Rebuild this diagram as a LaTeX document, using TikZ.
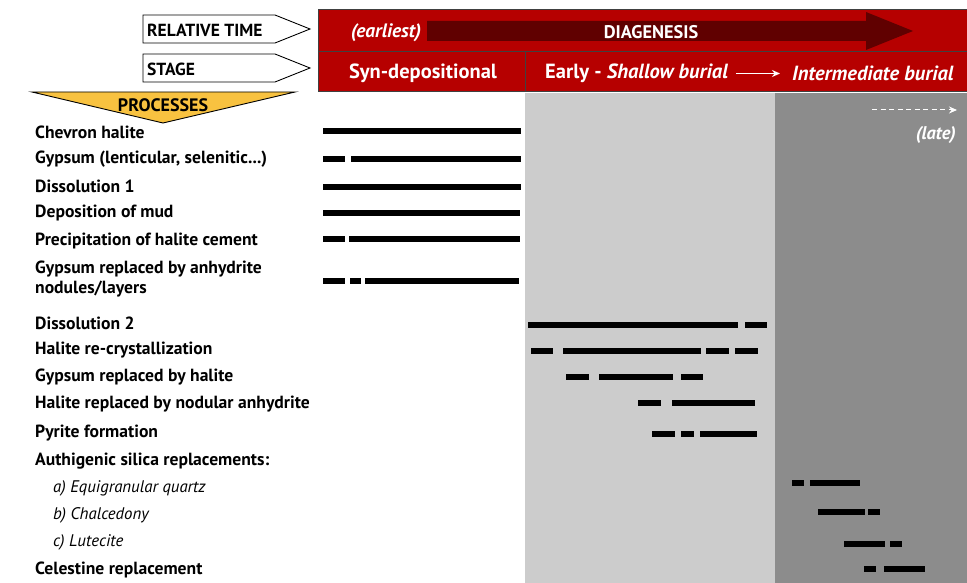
\documentclass[tikz,border=0pt]{standalone}
\usepackage{fontspec}
\setmainfont{PT Sans}
\usetikzlibrary{arrows.meta}
\definecolor{hdred}{RGB}{182,0,0}
\definecolor{arrred}{RGB}{96,0,0}
\definecolor{lgray}{RGB}{204,204,204}
\definecolor{dgray}{RGB}{140,140,140}
\definecolor{procyel}{RGB}{248,194,64}
\tikzset{
  lbl/.style={anchor=west,inner sep=0pt,yshift=-1.5pt,font=\bfseries\fontsize{17.6}{19}\selectfont},
  sublbl/.style={anchor=west,inner sep=0pt,yshift=-1.5pt,font=\itshape\fontsize{16.8}{18}\selectfont},
  hdtxt/.style={inner sep=0pt,yshift=-1.5pt,text=white,font=\bfseries\fontsize{20.5}{22}\selectfont},
  tagtxt/.style={anchor=west,inner sep=0pt,yshift=-1pt,font=\bfseries\fontsize{17.5}{19}\selectfont},
  bar/.style={line width=5.5pt},
  cell/.style={fill=hdred,draw=black!75,line width=1pt},
}
\begin{document}
\begin{tikzpicture}[x=1pt,y=-1pt]
\useasboundingbox (0,0) rectangle (967,583);
% background stages
\fill[lgray] (525,93) rectangle (775,583);
\fill[dgray] (775,93) rectangle (967,583);
% header cells
\draw[cell] (318,10) rectangle (967,52);
\draw[cell] (318,52) rectangle (525,92);
\draw[cell] (525,52) rectangle (967,92);
% diagenesis arrow
\fill[arrred] (427,21) -- (866,21) -- (866,12) -- (913,31) -- (866,50) -- (866,41) -- (427,41) -- cycle;
\node[hdtxt,font=\bfseries\itshape\fontsize{19.4}{21}\selectfont] (earliest) at (386,31) {(earliest)};
\node[hdtxt,font=\bfseries\fontsize{18.3}{20}\selectfont] (diag) at (651,31) {DIAGENESIS};
\node[hdtxt] (syn) at (423,72) {Syn-depositional};
\node[hdtxt,anchor=west] (early) at (545,72) {Early - \textit{Shallow burial}};
\node[hdtxt,anchor=west] (inter) at (792,72) {\textit{Intermediate burial}};
\draw[white,line width=1.3pt,-{Stealth[length=8pt,width=7pt]}] ([xshift=8pt]early.east) -- ([xshift=-12pt]inter.west);
% late
\coordinate (lateA) at (872,110);
\coordinate (lateB) at (957,110);
\draw[white,line width=1pt,dash pattern=on 5pt off 3.5pt,-{Stealth[length=8pt,width=7pt]}] (lateA) -- (lateB);
\node[hdtxt,anchor=east,font=\bfseries\itshape\fontsize{18.4}{20}\selectfont] (late) at (956,133) {(late)};
% tag arrows
\draw[fill=white,line width=0.9pt] (143,15) -- (275,15) -- (310,29) -- (275,43) -- (143,43) -- cycle;
\node[tagtxt] (rt) at (147,29) {RELATIVE TIME};
\draw[fill=white,line width=0.9pt] (143,54) -- (275,54) -- (310,68) -- (275,82) -- (143,82) -- cycle;
\node[tagtxt] (st) at (147,68) {STAGE};
\draw[fill=procyel,line width=0.9pt] (32,92) -- (295,92) -- (163,123) -- cycle;
\node[tagtxt,anchor=center,font=\bfseries\fontsize{18}{19}\selectfont] (proc) at (163,104) {PROCESSES};
% labels
\node[lbl] (p1) at (35,131) {Chevron halite};
\node[lbl] (p2) at (35,158) {Gypsum (lenticular, selenitic...)};
\node[lbl] (p3) at (35,185) {Dissolution 1};
\node[lbl] (p4) at (35,212) {Deposition of mud};
\node[lbl] (p5) at (35,240) {Precipitation of halite cement};
\node[lbl,align=left] (p6) at (35,278) {Gypsum replaced by anhydrite\\[1pt]nodules/layers};
\node[lbl] (p7) at (35,322) {Dissolution 2};
\node[lbl] (p8) at (35,349) {Halite re-crystallization};
\node[lbl] (p9) at (35,376) {Gypsum replaced by halite};
\node[lbl] (p10) at (35,403) {Halite replaced by nodular anhydrite};
\node[lbl] (p11) at (35,432) {Pyrite formation};
\node[lbl] (p12) at (35,460) {Authigenic silica replacements:};
\node[sublbl] (p13) at (53,487) {a) Equigranular quartz};
\node[sublbl] (p14) at (53,514) {b) Chalcedony};
\node[sublbl] (p15) at (53,541) {c) Lutecite};
\node[lbl] (p16) at (35,568) {Celestine replacement};
% bars
\draw[bar] (323,131) -- (521,131);
\draw[bar] (323,159) -- (345,159) (351,159) -- (521,159);
\draw[bar] (323,187) -- (521,187);
\draw[bar] (323,213) -- (520,213);
\draw[bar] (323,239) -- (345,239) (349,239) -- (520,239);
\draw[bar] (323,281) -- (345,281) (350,281) -- (361,281) (365,281) -- (519,281);
\draw[bar] (528,325) -- (738,325) (745,325) -- (767,325);
\draw[bar] (531,351) -- (553,351) (563,351) -- (701,351) (706,351) -- (729,351) (735,351) -- (758,351);
\draw[bar] (566,377) -- (589,377) (599,377) -- (673,377) (681,377) -- (703,377);
\draw[bar] (638,403) -- (661,403) (672,403) -- (755,403);
\draw[bar] (652,434) -- (675,434) (681,434) -- (694,434) (700,434) -- (757,434);
\draw[bar] (792,483) -- (804,483) (810,483) -- (860,483);
\draw[bar] (818,512) -- (865,512) (868,512) -- (880,512);
\draw[bar] (844,544) -- (885,544) (890,544) -- (902,544);
\draw[bar] (864,569) -- (876,569) (884,569) -- (925,569);
\end{tikzpicture}
\end{document}
